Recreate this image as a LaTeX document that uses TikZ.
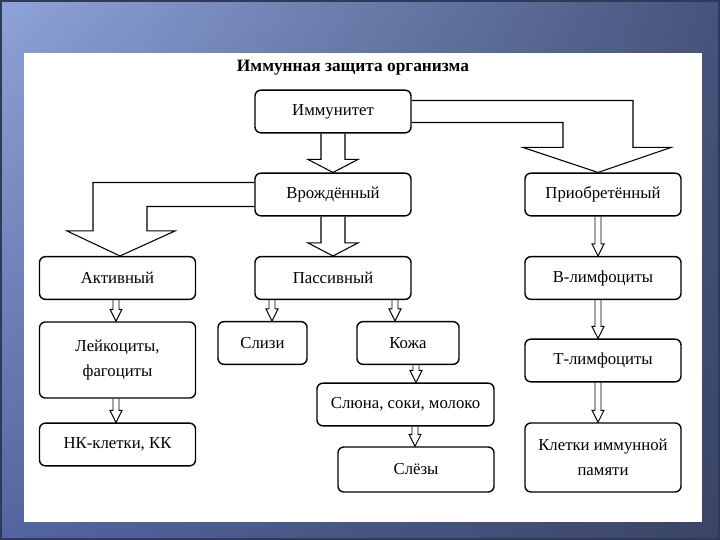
\documentclass[tikz,border=0pt]{standalone}
\usepackage{fontspec}
\setmainfont{Liberation Serif}
\usetikzlibrary{calc,shadings}
\definecolor{bgtl}{HTML}{8EA3D9}
\definecolor{bgtr}{HTML}{46547C}
\definecolor{bgbl}{HTML}{5464A0}
\definecolor{bgbr}{HTML}{3A4565}
\definecolor{bgedge}{HTML}{2F3A5A}
\tikzset{
  box/.style={rectangle,rounded corners=5pt,draw=black,line width=1.2pt,fill=white,align=center,inner sep=2pt,minimum width=4.68cm,minimum height=1.28cm,font=\fontsize{14.3}{21}\selectfont},
  fatarrow/.style={draw=black,line width=0.9pt,line join=miter},
  thinarrow/.style={draw=black,line width=0.8pt,line join=miter}
}
% wide hollow arrow straight down between two boxes
\newcommand{\fatdown}[2]{%
  \draw[fatarrow] ($(#1.south)+(-12,0)$) -- ($(#2.north)+(-12,-13)$) -- ($(#2.north)+(-25,-13)$) -- (#2.north)
    -- ($(#2.north)+(25,-13)$) -- ($(#2.north)+(12,-13)$) -- ($(#1.south)+(12,0)$);}
% narrow hollow arrow at a given x
\newcommand{\thindown}[3]{%
  \coordinate (p) at (#3,0 |- #1.south);
  \coordinate (q) at (#3,0 |- #2.north);
  \draw[thinarrow] ($(p)+(-3,0)$) -- ($(q)+(-3,-12)$) -- ($(q)+(-6,-12)$) -- (q)
    -- ($(q)+(6,-12)$) -- ($(q)+(3,-12)$) -- ($(p)+(3,0)$);}

\begin{document}
\begin{tikzpicture}[x=0.03cm,y=-0.03cm]
  \useasboundingbox (0,0) rectangle (720,540);
  \shade[upper left=bgtl,upper right=bgtr,lower left=bgbl,lower right=bgbr] (0,0) rectangle (720,540);
  \draw[bgedge,line width=1.5pt] (1,1) rectangle (719,539);
  \fill[white] (24,53) rectangle (702,522);

  \node[font=\bfseries\fontsize{14.8}{17}\selectfont] (title) at (353,68) {Иммунная защита организма};

  % first levels
  \node[box] (imm) at (333,111.5) {Иммунитет};
  \node[box] (vrozh) at (333,194.5) {Врождённый};
  \node[box] (priob) at (603,194.5) {Приобретённый};
  \node[box] (akt) at (117.5,278) {Активный};
  \node[box] (pass) at (333,278) {Пассивный};
  \node[box] (blym) at (603,278) {В-лимфоциты};

  % lower levels
  \node[box,minimum height=2.28cm] (leik) at (117.5,360) {Лейкоциты,\\фагоциты};
  \node[box] (nk) at (117.5,444.5) {НК-клетки, КК};
  \node[box,minimum width=2.67cm] (sliz) at (262.5,343) {Слизи};
  \node[box,minimum width=3.06cm] (kozh) at (408,343) {Кожа};
  \node[box,minimum width=5.31cm] (slyuna) at (405.5,404.5) {Слюна, соки, молоко};
  \node[box,minimum height=1.35cm] (slez) at (416,469.5) {Слёзы};
  \node[box] (tlym) at (603,360.5) {Т-лимфоциты};
  \node[box,minimum height=2.07cm] (klet) at (603,457.5) {Клетки иммунной\\памяти};

  % wide arrows
  \fatdown{imm}{vrozh}
  \fatdown{vrozh}{pass}
  \coordinate (lt) at ($(akt.north)+(2.5,0)$);
  \draw[fatarrow] ($(vrozh.west)+(0,-12)$) -| ($(lt)+(-27,-25)$) -- ($(lt)+(-53,-25)$) -- (lt)
    -- ($(lt)+(55,-25)$) -- ($(lt)+(27,-25)$) |- ($(vrozh.west)+(0,12)$);
  \coordinate (rt) at ($(priob.north)+(-5,0)$);
  \draw[fatarrow] ($(imm.east)+(0,-11)$) -| ($(rt)+(35,-25)$) -- ($(rt)+(73,-25)$) -- (rt)
    -- ($(rt)+(-75,-25)$) -- ($(rt)+(-35,-25)$) |- ($(imm.east)+(0,11)$);

  % narrow arrows
  \thindown{akt}{leik}{116}
  \thindown{leik}{nk}{116}
  \thindown{pass}{sliz}{272}
  \thindown{pass}{kozh}{395}
  \thindown{kozh}{slyuna}{416}
  \thindown{slyuna}{slez}{415}
  \thindown{priob}{blym}{598}
  \thindown{blym}{tlym}{598}
  \thindown{tlym}{klet}{598}
\end{tikzpicture}
\end{document}
